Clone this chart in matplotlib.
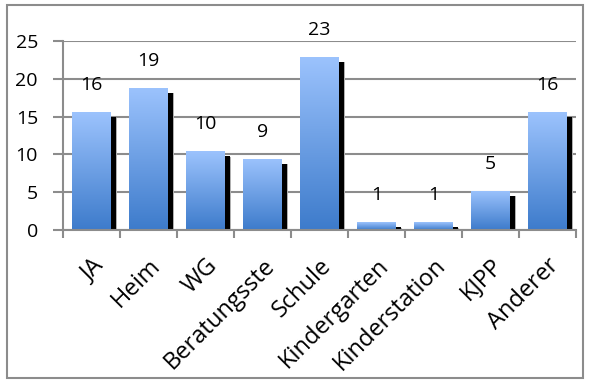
import numpy as np
import matplotlib
matplotlib.use("Agg")
import matplotlib.pyplot as plt
import matplotlib.transforms as mtransforms
from matplotlib.colors import LinearSegmentedColormap
from matplotlib.patches import Rectangle

categories = ["JA", "Heim", "WG", "Beratungsste", "Schule", "Kindergarten",
              "Kinderstation", "KJPP", "Anderer"]
values = [15.6, 18.8, 10.4, 9.4, 22.9, 1.0, 1.0, 5.2, 15.6]
labels = ["16", "19", "10", "9", "23", "1", "1", "5", "16"]
yticks = [0, 5, 10, 15, 20, 25]

plt.rcParams['font.family'] = ['Open Sans', 'DejaVu Sans']

fig = plt.figure(figsize=(5.89, 3.85), dpi=100)
fig.patch.set_facecolor('white')
# outer border
fig.add_artist(Rectangle((7/589, 1-378/385), (583-7)/589, (378-5)/385,
                         transform=fig.transFigure, fill=False,
                         edgecolor='#8c8c8c', linewidth=1.5))

ax = fig.add_axes([63/589, 1-230/385, (576-63)/589, (230-41)/385])
x = np.arange(len(categories))
width = 0.67

# shadows
sh_off = mtransforms.ScaledTranslation(5/100, -5/100, fig.dpi_scale_trans)
sh_off2 = mtransforms.ScaledTranslation(6.5/100, -5.5/100, fig.dpi_scale_trans)
ax.bar(x, values, width=width, color='#b0b0b0', zorder=2,
       transform=ax.transData + sh_off2)
ax.bar(x, values, width=width, color='black', zorder=2.5,
       transform=ax.transData + sh_off)

bars = ax.bar(x, values, width=width, color='none', zorder=3)
cmap = LinearSegmentedColormap.from_list('g', ['#3d7bcb', '#9cc3fd'])
grad = np.linspace(0, 1, 256).reshape(-1, 1)
for b in bars:
    x0, y0 = b.get_x(), b.get_y()
    w, h = b.get_width(), b.get_height()
    im = ax.imshow(grad, cmap=cmap, origin='lower', aspect='auto',
                   extent=[x0, x0 + w, y0, y0 + h], zorder=3)
    im.set_clip_path(b)

for xi, v, lab in zip(x, values, labels):
    ax.annotate(lab, (xi, v), xytext=(0, 19.5), textcoords='offset points',
                ha='center', va='center', fontsize=14, color='black', zorder=5)

ax.set_xlim(-0.5, len(categories) - 0.5)
ax.set_ylim(0, 25)
ax.set_yticks(yticks)
ax.set_yticklabels([str(t) for t in yticks], fontsize=14)
ax.set_xticks(x)
ax.set_xticklabels(categories, rotation=45, ha='right', va='top',
                   rotation_mode='anchor', fontsize=17)
lbl_off = mtransforms.ScaledTranslation(5/100, 0, fig.dpi_scale_trans)
for t in ax.get_xticklabels():
    t.set_transform(t.get_transform() + lbl_off)
ax.set_xticks(np.arange(-0.5, len(categories)), minor=True)
ax.tick_params(axis='x', which='major', length=0, pad=17)
ax.tick_params(axis='x', which='minor', length=6, width=1.5, color='#8c8c8c')
ax.tick_params(axis='y', length=7, width=1.5, color='#8c8c8c', pad=11)

ax.yaxis.grid(True, color='#8c8c8c', linewidth=1.5, zorder=1)
ax.set_axisbelow(True)
for s in ['top', 'right']:
    ax.spines[s].set_visible(False)
for s in ['left', 'bottom']:
    ax.spines[s].set_color('#8c8c8c')
    ax.spines[s].set_linewidth(1.5)
    ax.spines[s].set_zorder(4)
ax.set_facecolor('white')

fig.savefig('out.png', dpi=100)
